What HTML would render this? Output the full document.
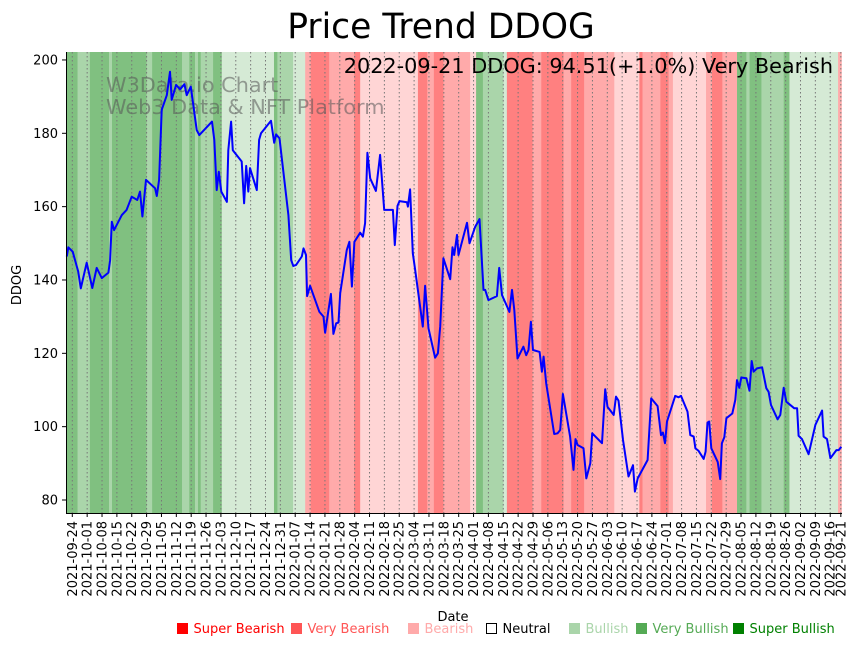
<!DOCTYPE html>
<html><head><meta charset="utf-8"><style>
body{margin:0;background:#fff;width:860px;height:646px;overflow:hidden;font-family:"Liberation Sans","DejaVu Sans",sans-serif}
svg text{font-family:"DejaVu Sans","Liberation Sans",sans-serif}
</style></head><body>
<svg id="chart" width="860" height="646" xmlns="http://www.w3.org/2000/svg">
<text x="441" y="38" font-size="34.5" text-anchor="middle">Price Trend DDOG</text>
<g id="bands"></g><g id="grid"></g>
<text x="106" y="92" font-size="20.8" fill="#555" fill-opacity="0.55">W3Data.io Chart</text>
<text x="106" y="114" font-size="20.8" fill="#555" fill-opacity="0.55">Web3 Data &amp; NFT Platform</text>
<g id="series"></g>
<text x="833" y="73" font-size="20.8" text-anchor="end">2022-09-21 DDOG: 94.51(+1.0%) Very Bearish</text>
<line x1="66.5" y1="52" x2="66.5" y2="514" stroke="#000" stroke-width="1"/>
<line x1="66" y1="513.5" x2="842" y2="513.5" stroke="#000" stroke-width="1"/>
<g id="yaxis"></g><g id="xaxis"></g>
<text transform="translate(21,285) rotate(-90)" font-size="13" text-anchor="middle">DDOG</text>
<text x="453" y="621" font-size="13" text-anchor="middle">Date</text>
<g id="legend"></g>
</svg>
<script>
// data: day offsets from 2021-09-24 and prices
const days=[-2.6,-1.9,0.2,2.8,4.0,6.8,9.4,11.5,13.9,17.0,17.8,18.6,19.7,23.3,25.6,28.0,30.6,31.9,33.0,34.7,39.0,39.8,40.9,42.1,44.5,46.0,46.8,48.9,50.8,52.8,53.9,55.8,58.6,59.8,65.8,66.9,68.0,69.0,70.2,72.8,73.5,74.8,75.6,79.8,80.9,81.9,82.9,83.7,86.9,88.0,88.9,93.6,95.1,96.0,97.6,101.8,103.1,104.1,105.4,108.1,108.9,110.1,110.6,112.0,116.4,118.3,119.1,121.8,123.0,124.3,125.4,126.2,129.3,130.5,131.7,132.9,135.6,136.9,137.9,139.0,140.3,143.0,145.0,146.9,151.0,151.9,153.2,154.1,157.6,158.1,159.1,160.4,161.5,165.1,166.2,167.8,170.9,172.2,173.3,174.8,178.0,179.1,179.9,181.2,181.9,185.9,187.1,189.8,191.8,193.7,194.5,196.0,200.0,201.1,202.4,205.9,207.1,208.2,209.7,212.5,213.8,214.9,216.0,217.0,220.1,221.2,222.0,223.2,227.0,228.6,229.8,231.1,234.5,236.1,237.0,238.0,240.8,242.1,244.0,244.9,249.5,251.0,252.1,255.0,256.1,257.3,259.4,262.0,264.1,265.0,266.3,271.0,272.7,275.7,277.3,278.2,279.2,280.1,284.0,285.6,286.7,289.8,291.1,292.7,293.5,295.0,297.4,298.3,299.2,300.0,301.0,304.0,305.2,306.0,307.1,308.1,310.9,312.3,313.1,314.2,315.1,317.5,319.0,320.0,320.9,322.5,324.9,326.9,328.0,329.1,332.2,333.5,335.1,336.3,340.1,341.4,342.1,343.7,346.8,350.0,353.2,353.9,355.5,357.1,359.9,361.0,362.2];
const prices=[146.4,148.9,147.7,142.3,137.7,144.7,137.8,143.3,140.5,142.0,145.4,155.9,153.6,157.7,159.1,162.7,161.8,164.1,157.3,167.3,165.0,162.9,167.3,186.4,190.4,196.8,189.1,193.2,192.0,193.4,190.4,192.7,180.9,179.5,183.2,178.2,164.5,169.5,164.1,161.3,175.4,183.2,175.4,172.3,160.9,171.1,164.1,170.5,164.5,178.2,180.0,183.4,177.4,179.7,178.6,157.7,145.4,143.8,144.1,146.4,148.6,146.8,135.6,138.4,131.3,130.0,125.6,136.2,125.3,128.2,128.4,136.4,148.2,150.4,138.2,150.4,152.9,151.8,155.5,174.7,167.7,164.3,174.1,159.1,159.1,149.5,160.2,161.5,161.2,160.0,164.7,147.3,142.7,127.3,138.4,126.8,118.8,120.0,127.3,145.9,140.2,148.9,146.8,152.3,146.8,155.6,150.0,154.5,156.6,137.3,137.3,134.5,135.6,143.3,135.9,131.3,137.3,131.8,118.6,121.8,119.5,120.9,128.6,120.9,120.4,115.0,119.1,111.8,98.0,98.2,99.1,108.9,97.3,88.2,96.6,95.0,94.1,85.9,90.0,98.2,95.5,110.2,105.4,103.2,108.2,107.1,96.4,86.4,89.5,82.3,85.9,90.9,107.7,105.6,97.7,98.4,95.5,101.4,108.4,108.0,108.4,104.1,97.7,97.3,94.1,93.4,91.2,93.2,101.1,101.4,94.1,90.4,85.7,95.5,97.1,102.3,103.6,107.3,112.7,110.6,113.4,113.2,109.8,117.9,115.0,115.9,116.2,110.5,109.5,105.9,102.0,103.2,110.6,106.8,105.0,105.0,97.5,96.6,92.5,100.5,104.4,97.3,96.6,91.4,93.6,93.6,94.5];
// sentiment bands: start day, end day, level
const bandStart=[-2.7,2.5,8.3,17.3,18.7,35.0,37.6,51.7,55.1,57.8,59.2,60.5,66.3,70.4,95.0,96.6,104.0,109.7,112.3,121.0,122.4,132.8,135.6,162.8,167.2,170.3,174.8,187.4,190.2,193.4,203.1,204.7,216.8,220.9,231.4,235.0,241.1,255.3,267.1,268.6,277.0,280.9,282.9,298.5,301.3,306.2,313.1,317.5,319.0,324.6,335.1,337.8,360.7];
const bandEnd=[2.5,8.3,17.3,18.7,35.0,37.6,51.7,55.1,57.8,59.2,60.5,66.3,70.4,95.0,96.6,104.0,109.7,112.3,121.0,122.4,132.8,135.6,162.8,167.2,170.3,174.8,187.4,190.2,193.4,203.1,204.7,216.8,220.9,231.4,235.0,241.1,255.3,267.1,268.6,277.0,280.9,282.9,298.5,301.3,306.2,313.1,317.5,319.0,324.6,335.1,337.8,360.7,362.3];
const bandLevel=[3,2,3,2,3,2,3,2,3,2,3,2,3,1,3,2,1,-2,-3,-2,-2,-3,-1,-3,-2,-3,-2,-1,3,2,1,-3,-2,-3,-2,-3,-2,-1,-3,-2,-3,-2,-1,-2,-3,-2,3,2,3,2,3,1,-2];
const yTicks=[80,100,120,140,160,180,200];
const legendLabels=["Super Bearish","Very Bearish","Bearish","Neutral","Bullish","Very Bullish","Super Bullish"];

const NS="http://www.w3.org/2000/svg";
const X0=72.3,PXD=2.123,TOP=52,BOT=513;
const xs=d=>X0+d*PXD;
const ys=p=>500-(p-80)*3.667;
function mk(t,a,p){const e=document.createElementNS(NS,t);for(const k in a)e.setAttribute(k,a[k]);p.appendChild(e);return e;}
const colors={"3":"#80c080","2":"#aad5aa","1":"#d5ead5","-1":"#ffd5d5","-2":"#ffaaaa","-3":"#ff8080"};
const bg=document.getElementById('bands');
for(let i=0;i<bandStart.length;i++){
  const x1=Math.max(66.5,xs(bandStart[i])),x2=Math.min(842,xs(bandEnd[i]));
  const r=mk('rect',{x:x1,y:TOP,width:Math.max(0,x2-x1+0.3),height:BOT-TOP,fill:colors[bandLevel[i]]},bg);
  
  
}
const grid=document.getElementById('grid'),xa=document.getElementById('xaxis');
const start=new Date(Date.UTC(2021,8,24));
const tickDays=[];for(let d=0;d<=357;d+=7)tickDays.push(d);tickDays.push(362);
tickDays.forEach(d=>{
  const x=xs(d);
  const gl=mk('line',{x1:x,y1:TOP,x2:x,y2:BOT,stroke:'#777','stroke-width':1,'stroke-dasharray':'1.5,2.5'},grid);
  
  
  mk('line',{x1:x,y1:BOT,x2:x,y2:BOT+4,stroke:'#000'},xa);
  const dt=new Date(start.getTime()+d*86400000);
  const s=dt.toISOString().slice(0,10);
  const t=mk('text',{transform:`translate(${x+4.5},${BOT+8}) rotate(-90)`,'font-size':13,'text-anchor':'end'},xa);
  t.textContent=s;
  
  
});
const ya=document.getElementById('yaxis');
yTicks.forEach(v=>{
  const y=ys(v);
  mk('line',{x1:62,y1:y,x2:66.5,y2:y,stroke:'#000'},ya);
  const t=mk('text',{x:58,y:y+4.5,'font-size':13,'text-anchor':'end'},ya);
  t.textContent=v;
  
  
});
const pts=days.map((d,i)=>xs(d).toFixed(1)+','+ys(prices[i]).toFixed(1)).join(' ');
const line=mk('polyline',{points:pts,fill:'none',stroke:'#0000ff','stroke-width':2,'stroke-linejoin':'round'},document.getElementById('series'));


const lg=document.getElementById('legend');
const lcol=['#ff0000','#ff5555','#ffaaaa','#000','#aad5aa','#55aa55','#008000'];
const lx=[177,291,408,486,569,636,733];
legendLabels.forEach((l,i)=>{
  const g=mk('g',{},lg);
  
  
  if(i===3) mk('rect',{x:lx[i]+0.5,y:623.5,width:10,height:10,fill:'#fff',stroke:'#000'},g);
  else mk('rect',{x:lx[i],y:623,width:11,height:11,fill:lcol[i]},g);
  const t=mk('text',{x:lx[i]+16.5,y:633,'font-size':13,fill:lcol[i]},g);
  t.textContent=l;
});
</script>
</body></html>
